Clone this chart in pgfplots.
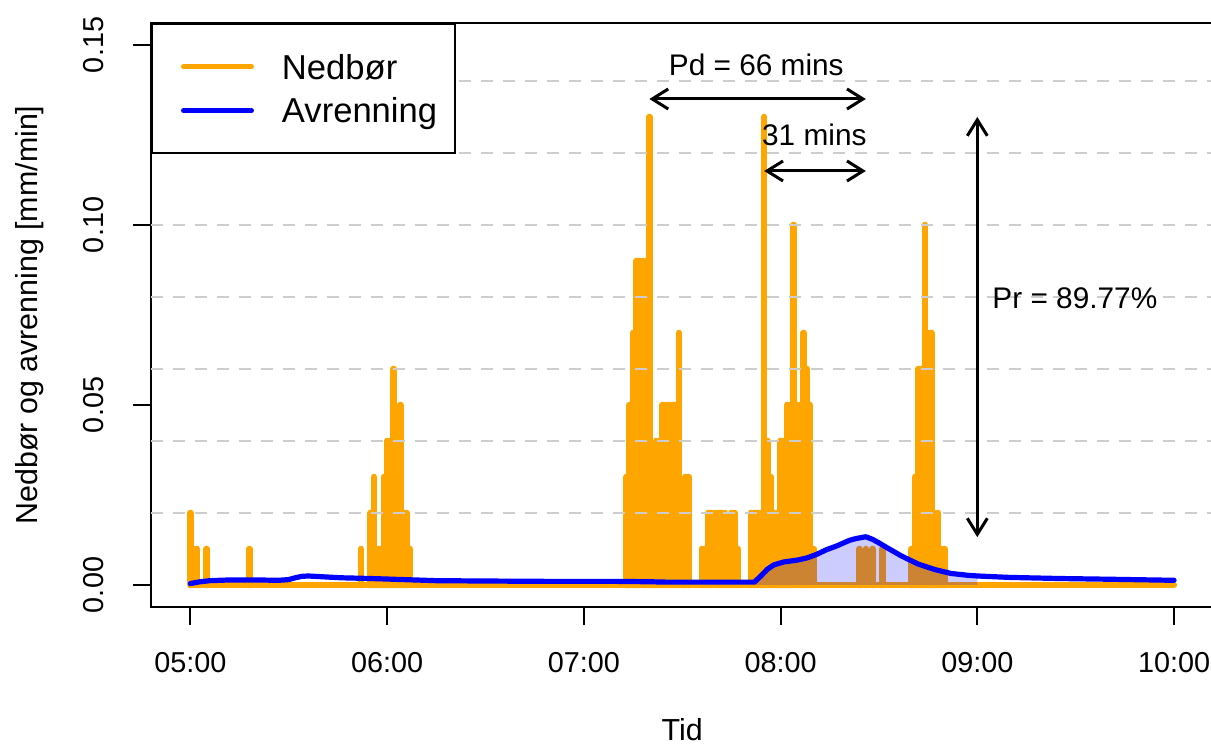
\documentclass[border=0pt]{standalone}
\usepackage{fontspec}
\setmainfont{Liberation Sans}
\usepackage{pgfplots}
\usepackage{pgfplotstable}
\pgfplotsset{compat=1.18}
\usetikzlibrary{arrows.meta}
\definecolor{rorange}{RGB}{255,165,0}
\definecolor{rblue}{RGB}{0,0,255}
\definecolor{rgrid}{RGB}{205,205,205}

% minutes after 05:00, rainfall [mm/min]
\pgfplotstableread{
x y
0 0.02
1 0.01
2 0.01
5 0.01
18 0.01
52 0.01
55 0.02
56 0.03
57 0.01
58 0.01
59 0.03
60 0.04
61 0.04
62 0.06
63 0.04
64 0.05
65 0.02
66 0.02
67 0.01
133 0.03
134 0.05
135 0.07
136 0.09
137 0.09
138 0.09
139 0.09
140 0.13
141 0.03
142 0.04
143 0.04
144 0.05
145 0.05
146 0.05
147 0.05
148 0.05
149 0.07
150 0.02
151 0.03
152 0.03
156 0.01
157 0.01
158 0.02
159 0.02
160 0.02
161 0.02
162 0.02
163 0.02
164 0.01
165 0.02
166 0.02
167 0.01
171 0.02
172 0.02
173 0.02
174 0.02
175 0.13
176 0.04
177 0.03
178 0.02
179 0.02
180 0.04
181 0.04
182 0.05
183 0.05
184 0.10
185 0.05
186 0.05
187 0.07
188 0.06
189 0.05
190 0.01
204 0.01
206 0.01
208 0.01
211 0.01
220 0.01
221 0.03
222 0.06
223 0.06
224 0.10
225 0.07
226 0.07
227 0.02
228 0.02
229 0.01
230 0.01
}\raintab

% minutes after 05:00, runoff [mm/min]
\pgfplotstableread{
x y
0 0.0004
3 0.0009
6 0.0012
12 0.0014
20 0.0014
27 0.0013
30 0.0015
32 0.0020
34 0.0024
36 0.0025
40 0.0023
46 0.0020
55 0.0018
65 0.0015
75 0.0012
90 0.0011
110 0.0010
130 0.0010
140 0.0009
145 0.0008
172 0.0008
174 0.0025
176 0.0044
178 0.0056
181 0.0064
185 0.0069
188 0.0075
191 0.0085
194 0.0098
197 0.0108
201 0.0124
203 0.0129
206 0.0134
208 0.0127
210 0.0117
212 0.0106
217 0.0080
222 0.0058
227 0.0043
232 0.0032
237 0.0027
240 0.0025
250 0.0021
265 0.0018
280 0.0016
300 0.0013
}\runofftab

% shaded part of the runoff (event window)
\pgfplotstableread{
x y
172 0
172 0.0008
174 0.0025
176 0.0044
178 0.0056
181 0.0064
185 0.0069
188 0.0075
191 0.0085
194 0.0098
197 0.0108
201 0.0124
203 0.0129
206 0.0134
208 0.0127
210 0.0117
212 0.0106
217 0.0080
222 0.0058
227 0.0043
232 0.0032
237 0.0027
240 0.0025
240 0
}\shadetab

\newcommand{\tickfont}{\fontsize{14.4}{17}\selectfont}
\newcommand{\labfont}{\fontsize{15.2}{18}\selectfont}
\newcommand{\annfont}{\fontsize{14.9}{18}\selectfont}
\newcommand{\legfont}{\fontsize{17.3}{20}\selectfont}

\begin{document}
\begin{tikzpicture}[x=1pt,y=1pt]
\begin{axis}[
  at={(0,0)}, anchor=south west,
  scale only axis, width=531.2pt, height=291.6pt,
  xmin=-12, xmax=312, ymin=-0.006, ymax=0.156,
  axis line style={line width=1pt, black},
  tick align=outside, major tick length=9pt,
  tick style={line width=1pt, black},
  xtick pos=bottom, ytick pos=left,
  xtick={0,60,120,180,240,300},
  xticklabels={05:00,06:00,07:00,08:00,09:00,10:00},
  ytick={0,0.05,0.1,0.15},
  yticklabels={0.00,0.05,0.10,0.15},
  ticklabel style={font=\tickfont},
  xticklabel style={yshift=-10.5pt},
  yticklabel style={xshift=-11pt, rotate=90, anchor=south},
  xlabel={Tid}, ylabel={Nedbør og avrenning [mm/min]},
  label style={font=\labfont},
  xlabel style={at={(axis description cs:0.5,-0.211)}, anchor=center},
  ylabel style={at={(axis description cs:-0.1139,0.5)}, anchor=center},
  legend style={at={(0,1)}, anchor=north west, draw=black, line width=1pt,
    fill=white, inner xsep=9pt, inner ysep=15pt, font=\legfont, row sep=9.5pt,
    nodes={inner sep=0pt, text height=12.4pt, text depth=0pt, anchor=west},
    /tikz/every odd column/.style={column sep=14pt}},
  legend cell align=left,
  legend image code/.code={\path (0pt,0pt); \draw[#1, line cap=round] (5.5pt,0pt) -- (39.5pt,0pt);},
]
% rainfall: zero minutes and the bars
\addplot[rorange, line width=3pt, line cap=round, forget plot] coordinates {(0,0) (300,0)};
\addplot[ycomb, rorange, line width=3.3pt, line cap=round, forget plot] table {\raintab};
% grid lines
\pgfplotsinvokeforeach{0.02,0.04,0.06,0.08,0.10,0.12,0.14}{
  \draw[rgrid, line width=1pt, dash pattern=on 6pt off 5pt] (axis cs:-12,#1) -- (axis cs:312,#1);
}
% shaded runoff
\addplot[fill=rblue, fill opacity=0.2, draw=none, forget plot] table {\shadetab};
% runoff line
\addplot[rblue, line width=2.6pt, line join=round, line cap=round, forget plot] table {\runofftab};
% annotations
\draw[black, line width=1.5pt, {Straight Barb[length=8pt,width=10pt]}-{Straight Barb[length=8pt,width=10pt]}] (axis cs:140,0.135) -- (axis cs:206,0.135);
\draw[black, line width=1.5pt, {Straight Barb[length=8pt,width=10pt]}-{Straight Barb[length=8pt,width=10pt]}] (axis cs:175,0.115) -- (axis cs:206,0.115);
\draw[black, line width=1.5pt, {Straight Barb[length=8pt,width=10pt]}-{Straight Barb[length=8pt,width=10pt]}] (axis cs:240,0.13) -- (axis cs:240,0.0133);
\node[font=\annfont, inner sep=0pt] at (axis cs:172.6,0.1444) {Pd = 66 mins};
\node[font=\annfont, inner sep=0pt] at (axis cs:190.3,0.125) {31 mins};
\node[font=\annfont, inner sep=0pt, anchor=west] at (axis cs:244.5,0.0797) {Pr = 89.77\%};
% legend
\addlegendimage{rorange, line width=2.5pt}
\addlegendentry{Nedbør}
\addlegendimage{rblue, line width=2.5pt}
\addlegendentry{Avrenning}
\end{axis}
\pgfresetboundingbox
\path[use as bounding box] (-75.5,-70.2) rectangle (530,303.3);
\end{tikzpicture}
\end{document}
